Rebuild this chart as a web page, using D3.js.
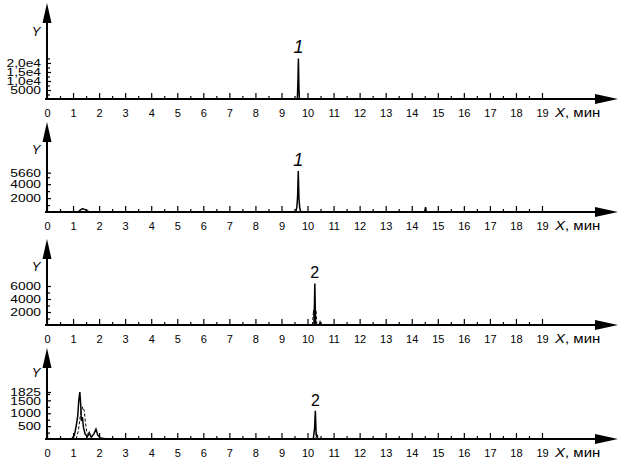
<!DOCTYPE html>
<html>
<head>
<meta charset="utf-8">
<script src="https://cdn.jsdelivr.net/npm/d3@7"></script>
<style>
  body { margin: 0; background: #fff; }
  svg { display: block; font-family: "Liberation Sans", Arial, sans-serif; }
</style>
</head>
<body>
<div id="chart"></div>
<script>
// Time axis (min)
const xTickValues = [0, 1, 2, 3, 4, 5, 6, 7, 8, 9, 10, 11, 12, 13, 14, 15, 16, 17, 18, 19];
const xMinorValues = [0.5, 1.5, 2.5, 3.5, 4.5, 5.5, 6.5, 7.5, 8.5, 9.5, 10.5, 11.5, 12.5, 13.5, 14.5, 15.5, 16.5, 17.5, 18.5];

// Panel 1 chromatogram
const p1Solid = [[0, 0], [9.61, 0], [9.63, 9000], [9.65, 22500], [9.67, 6000], [9.69, 0], [19.3, 0]];
const p1Dash = [];
const p1YTicks = [5000, 10000, 15000, 20000];
const p1YLabels = ['5000', '1,0e4', '1,5e4', '2,0e4'];
const p1YMinor = [2500, 7500, 12500, 17500, 22500];

// Panel 2 chromatogram
const p2Solid = [[0, 0], [1.2, 0], [1.28, 300], [1.36, 450], [1.45, 380], [1.55, 150], [1.62, 0],
  [9.55, 0], [9.59, 700], [9.62, 2300], [9.645, 5900], [9.67, 2000], [9.70, 600], [9.74, 0],
  [14.5, 0], [14.53, 700], [14.56, 0], [19.3, 0]];
const p2Dash = [];
const p2YTicks = [2000, 4000, 5660];
const p2YLabels = ['2000', '4000', '5660'];
const p2YMinor = [1000, 3000, 5000];

// Panel 3 chromatogram
const p3Solid = [[0, 0], [10.25, 0], [10.28, 6400], [10.31, 0], [10.45, 0], [10.48, 400], [10.51, 0], [19.3, 0]];
const p3Dash = [[10.19, 0], [10.23, 2300], [10.26, 150], [10.29, 150], [10.32, 2300], [10.36, 0]];
const p3YTicks = [2000, 4000, 6000];
const p3YLabels = ['2000', '4000', '6000'];
const p3YMinor = [1000, 3000, 5000];

// Panel 4 chromatogram
const p4Solid = [[0, 0], [0.95, 0], [1.05, 150], [1.12, 500], [1.18, 900], [1.22, 1500], [1.26, 1820],
  [1.29, 1400], [1.32, 700], [1.36, 850], [1.40, 450], [1.46, 200], [1.55, 90], [1.62, 250], [1.70, 70],
  [1.80, 200], [1.88, 380], [1.95, 150], [2.05, 40], [2.3, 0],
  [10.22, 0], [10.27, 400], [10.30, 1100], [10.33, 200], [10.38, 0], [19.3, 0]];
const p4Dash = [[1.12, 0], [1.20, 300], [1.28, 900], [1.37, 1250], [1.43, 1100], [1.47, 700],
  [1.52, 300], [1.58, 180], [1.66, 0], [10.30, 0], [10.35, 250], [10.42, 0]];
const p4YTicks = [500, 1000, 1500, 1825];
const p4YLabels = ['500', '1000', '1500', '1825'];
const p4YMinor = [250, 750, 1250, 1750];

// Peak labels
const peakTimes = [9.65, 9.645, 10.28, 10.30];
const peakLabels = ['1', '1', '2', '2'];

// Layout
const w = 622;
const h = 467;
const x0 = 47;
const baselines = [99, 212, 325, 439];
const arrowTops = [3, 122, 239, 348];
const yLetterY = [36, 154, 271, 377];
const plotH = 60;
const yMaxes = [33300, 8630, 9230, 2330];

const panels = [
  { solid: p1Solid, dash: p1Dash, ticks: p1YTicks, labels: p1YLabels, minor: p1YMinor },
  { solid: p2Solid, dash: p2Dash, ticks: p2YTicks, labels: p2YLabels, minor: p2YMinor },
  { solid: p3Solid, dash: p3Dash, ticks: p3YTicks, labels: p3YLabels, minor: p3YMinor },
  { solid: p4Solid, dash: p4Dash, ticks: p4YTicks, labels: p4YLabels, minor: p4YMinor }
];

const svg = d3.select('#chart')
  .append('svg')
  .attr('width', w)
  .attr('height', h);

const xScale = d3.scaleLinear()
  .domain([0, 19])
  .range([x0, 542]);

panels.forEach((p, i) => {
  const base = baselines[i];
  const yScale = d3.scaleLinear()
    .domain([0, yMaxes[i]])
    .range([base, base - plotH]);

  const g = svg.append('g');

  // x axis: major ticks + labels
  const xAxis = d3.axisBottom(xScale)
    .tickValues(xTickValues)
    .tickSize(-6)
    .tickPadding(10)
    .tickFormat(d3.format('d'));

  g.append('g')
    .classed('x-axis', true)
    .attr('transform', `translate(0, ${base})`)
    .call(xAxis);

  // x axis: minor ticks
  g.append('g')
    .attr('transform', `translate(0, ${base})`)
    .call(d3.axisBottom(xScale).tickValues(xMinorValues).tickSize(-3).tickFormat(''));

  // y axis ticks (labels drawn below)
  g.append('g')
    .attr('transform', `translate(${x0}, 0)`)
    .call(d3.axisRight(yScale).tickValues(p.ticks).tickSize(4).tickFormat(''));

  g.append('g')
    .attr('transform', `translate(${x0}, 0)`)
    .call(d3.axisRight(yScale).tickValues(p.minor).tickSize(3).tickFormat(''));

  g.selectAll('.domain').remove();
  g.selectAll('.tick line').attr('stroke', '#000').attr('stroke-width', 1.2);
  g.selectAll('.x-axis .tick text')
    .attr('fill', '#000')
    .style('font-size', '11px');

  // y tick labels, slightly wide like the original typeface
  g.selectAll('.ylab')
    .data(p.ticks)
    .join('text')
    .attr('class', 'ylab')
    .attr('transform', d => `translate(41, ${yScale(d)}) scale(1.2, 1)`)
    .attr('dy', '0.36em')
    .attr('text-anchor', 'end')
    .style('font-size', '11.5px')
    .text((d, j) => p.labels[j]);

  // axis lines with arrows
  g.append('line')
    .attr('x1', x0 - 2).attr('x2', 600)
    .attr('y1', base).attr('y2', base)
    .attr('stroke', '#000').attr('stroke-width', 2);

  g.append('path')
    .attr('d', `M618,${base}L595,${base - 5}L595,${base + 5}Z`)
    .attr('fill', '#000');

  g.append('line')
    .attr('x1', x0).attr('x2', x0)
    .attr('y1', base + 1).attr('y2', arrowTops[i] + 18)
    .attr('stroke', '#000').attr('stroke-width', 2);

  g.append('path')
    .attr('d', `M${x0},${arrowTops[i]}L${x0 - 4.5},${arrowTops[i] + 20}L${x0 + 4.5},${arrowTops[i] + 20}Z`)
    .attr('fill', '#000');

  // axis titles
  g.append('text')
    .attr('x', 36)
    .attr('y', yLetterY[i])
    .attr('text-anchor', 'middle')
    .style('font-size', '13px')
    .style('font-style', 'italic')
    .text('Y');

  const xt = g.append('text')
    .attr('transform', `translate(555, ${base + 18}) scale(1.2, 1)`)
    .style('font-size', '12.5px');
  xt.append('tspan').style('font-style', 'italic').text('X');
  xt.append('tspan').text(', мин');

  // traces
  const line = d3.line()
    .x(d => xScale(d[0]))
    .y(d => yScale(d[1]));

  g.append('path')
    .datum(p.solid)
    .attr('fill', 'none')
    .attr('stroke', '#000')
    .attr('stroke-width', 1.5)
    .attr('d', line);

  if (p.dash.length) {
    g.append('path')
      .datum(p.dash)
      .attr('fill', 'none')
      .attr('stroke', '#000')
      .attr('stroke-width', 1)
      .attr('stroke-dasharray', '3,2')
      .attr('d', line);
  }

  // peak label
  const peakMax = d3.max(p.solid.filter(d => Math.abs(d[0] - peakTimes[i]) < 0.1), d => d[1]);
  g.append('text')
    .attr('x', xScale(peakTimes[i]))
    .attr('y', yScale(peakMax) - 5)
    .attr('text-anchor', 'middle')
    .style('font-size', i < 2 ? '18px' : '16px')
    .style('font-style', i < 2 ? 'italic' : 'normal')
    .text(peakLabels[i]);
});
</script>
</body>
</html>
